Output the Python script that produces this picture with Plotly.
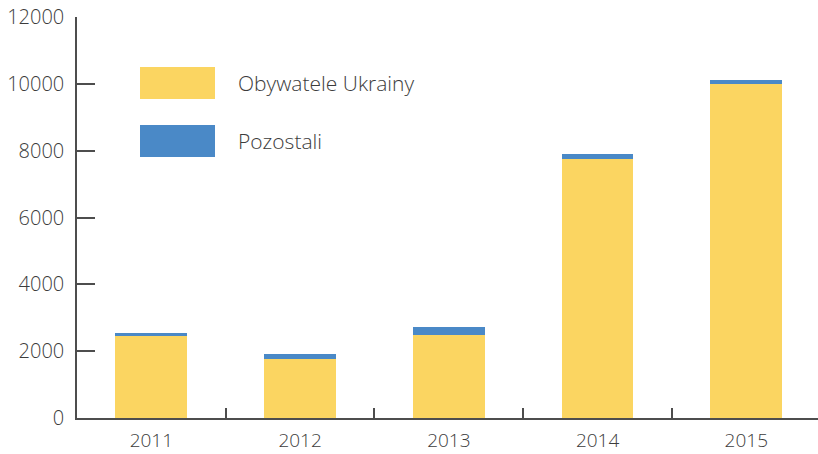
import plotly.graph_objects as go

years = ["2011", "2012", "2013", "2014", "2015"]
ukraina = [2450, 1760, 2480, 7750, 10000]
pozostali = [90, 150, 240, 150, 110]
y_ticks = [0, 2000, 4000, 6000, 8000, 10000, 12000]

YELLOW = "#FBD561"
BLUE = "#4A89C7"
AXIS = "#4d4d4d"
TEXT = "#3c3c3c"
FONT = "Open Sans"

fig = go.Figure()
fig.add_trace(go.Bar(x=years, y=ukraina, name="Obywatele Ukrainy",
                     marker=dict(color=YELLOW, line=dict(width=0))))
fig.add_trace(go.Bar(x=years, y=pozostali, name="Pozostali",
                     marker=dict(color=BLUE, line=dict(width=0))))

fig.update_layout(
    barmode="stack",
    bargap=0.517,
    width=818, height=454,
    margin=dict(l=77, r=0, t=17, b=36),
    plot_bgcolor="white", paper_bgcolor="white",
    showlegend=False,
    font=dict(family=FONT, size=20, color=TEXT, weight=300),
)
fig.update_xaxes(
    type="category", range=[-0.5, 4.482], automargin=False,
    showline=True, linecolor=AXIS, linewidth=1.5,
    ticks="inside", tickson="boundaries", ticklen=10, tickcolor=AXIS, tickwidth=1.5,
    showgrid=False, zeroline=False, ticklabelstandoff=4,
    tickfont=dict(family=FONT, size=19, color=TEXT, weight=300),
)
fig.update_yaxes(
    range=[0, 12000], tickvals=y_ticks, ticktext=[str(v) for v in y_ticks],
    automargin=False,
    showline=True, linecolor=AXIS, linewidth=1.5,
    ticks="inside", ticklen=18, tickcolor=AXIS, tickwidth=1.5,
    showgrid=False, zeroline=False, ticklabelstandoff=7,
    tickfont=dict(family=FONT, size=20, color=TEXT, weight=300),
)

# legend drawn as swatches + labels
legend_items = [("Obywatele Ukrainy", YELLOW, 67, 99), ("Pozostali", BLUE, 125, 157)]
H = 454
for label, color, top, bottom in legend_items:
    fig.add_shape(type="rect", xref="paper", yref="paper",
                  x0=(140 - 77) / 741, x1=(215 - 77) / 741,
                  y0=(H - 36 - bottom) / 401, y1=(H - 36 - top) / 401,
                  fillcolor=color, line=dict(width=0))
    fig.add_annotation(text=label, xref="paper", yref="paper",
                       x=(236 - 77) / 741, y=(H - 36 - (top + bottom) / 2) / 401,
                       xanchor="left", yanchor="middle", showarrow=False,
                       font=dict(family=FONT, size=21, color=TEXT, weight=300))

fig.write_html("out.html")
